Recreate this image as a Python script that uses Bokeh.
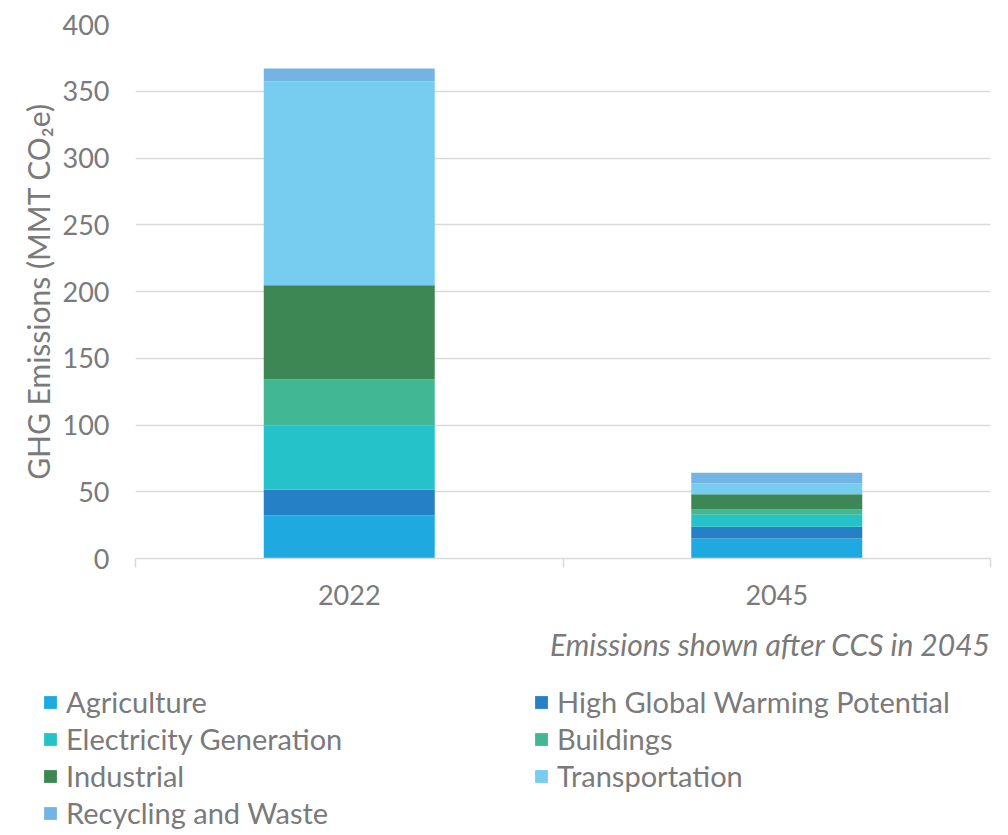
from bokeh.plotting import figure
from bokeh.models import (Range1d, FixedTicker, Legend, LegendItem, Title,
                          ColumnDataSource)
from bokeh.embed import file_html
from bokeh.resources import INLINE

years = ["2022", "2045"]
sectors = ["Agriculture", "High Global Warming Potential", "Electricity Generation",
           "Buildings", "Industrial", "Transportation", "Recycling and Waste"]
agriculture = [32.2, 15.0]
high_gwp = [19.5, 8.7]
electricity = [47.9, 9.0]
buildings = [34.5, 4.0]
industrial = [70.5, 11.5]
transportation = [152.8, 8.2]
recycling = [9.7, 7.8]
colors = ["#1EAAE1", "#2580C5", "#26C2CA", "#41B893", "#3C8753", "#77CDF0", "#74B4E3"]
y_ticks = [0, 50, 100, 150, 200, 250, 300, 350, 400]

FONT = "Lato"
GRAY = "#7a7a7a"
LIGHT = "#d9d9d9"

xpos = [i + 0.5 for i in range(len(years))]
keys = ["agri", "hgwp", "elec", "bldg", "ind", "trans", "recyc"]
data = dict(x=xpos, agri=agriculture, hgwp=high_gwp, elec=electricity,
            bldg=buildings, ind=industrial, trans=transportation, recyc=recycling)

WIDTH = 1000
MAIN_H = 680
LEG_H = 150

p = figure(width=WIDTH, height=MAIN_H, output_backend="svg", toolbar_location=None,
           x_range=Range1d(0, len(years)), y_range=Range1d(0, 400),
           min_border_left=135, min_border_right=10, min_border_top=24,
           min_border_bottom=MAIN_H - 558)
p.outline_line_color = None
p.background_fill_color = "white"
p.border_fill_color = "white"

p.vbar_stack(keys, x="x", width=0.4, source=ColumnDataSource(data), color=colors,
             line_color=None)

# Y axis
p.yaxis.ticker = FixedTicker(ticks=y_ticks)
p.yaxis.axis_line_color = None
p.yaxis.major_tick_line_color = None
p.yaxis.minor_tick_line_color = None
p.yaxis.major_tick_out = 0
p.yaxis.major_label_standoff = 26
p.yaxis.major_label_text_font = FONT
p.yaxis.major_label_text_font_size = "27px"
p.yaxis.major_label_text_color = GRAY
p.yaxis.axis_label = "GHG Emissions (MMT CO\u2082e)"
p.yaxis.axis_label_text_font = FONT
p.yaxis.axis_label_text_font_size = "30px"
p.yaxis.axis_label_text_font_style = "normal"
p.yaxis.axis_label_text_color = GRAY
p.yaxis.axis_label_standoff = 4

p.ygrid.grid_line_color = LIGHT
p.ygrid.grid_line_width = 1.5
p.xgrid.grid_line_color = None

# X axis
p.xaxis.ticker = FixedTicker(ticks=xpos, minor_ticks=list(range(len(years) + 1)))
p.xaxis.major_label_overrides = {xv: y for xv, y in zip(xpos, years)}
p.xaxis.axis_line_color = LIGHT
p.xaxis.axis_line_width = 1.5
p.xaxis.major_tick_line_color = None
p.xaxis.major_tick_out = 0
p.xaxis.minor_tick_line_color = LIGHT
p.xaxis.minor_tick_line_width = 1.5
p.xaxis.minor_tick_out = 9
p.xaxis.minor_tick_in = 0
p.xaxis.major_label_standoff = 17
p.xaxis.major_label_text_font = FONT
p.xaxis.major_label_text_font_size = "27px"
p.xaxis.major_label_text_color = GRAY

note = Title(text="Emissions shown after CCS in 2045", align="right",
             text_font=FONT, text_font_size="30px", text_font_style="italic",
             text_color=GRAY, standoff=33)
p.add_layout(note, "below")

# Legend panel: a second figure whose bars fall well outside its visible range
q = figure(width=WIDTH, height=LEG_H, output_backend="svg", toolbar_location=None,
           x_range=Range1d(10, 11), y_range=Range1d(1000, 1001),
           x_axis_location=None, y_axis_location=None,
           min_border=0, min_border_left=0, min_border_right=0,
           min_border_top=0, min_border_bottom=0)
q.outline_line_color = None
q.xgrid.grid_line_color = None
q.ygrid.grid_line_color = None
q.background_fill_color = "white"
q.border_fill_color = "white"
leg_renderers = q.vbar_stack(keys, x="x", width=0.4, source=ColumnDataSource(data),
                             color=colors, line_color=None)
items = [LegendItem(label=s, renderers=[r]) for s, r in zip(sectors, leg_renderers)]
legend = Legend(items=items, orientation="horizontal", ncols=2,
                location=(42, 0), label_text_font=FONT, label_text_font_size="29px",
                label_text_color=GRAY, glyph_width=16, glyph_height=16,
                label_standoff=8, label_width=465, spacing=2,
                border_line_color=None, background_fill_alpha=0,
                padding=0, margin=0, label_height=33)
q.add_layout(legend)

open("out.html", "w").write(file_html([p, q], INLINE))
